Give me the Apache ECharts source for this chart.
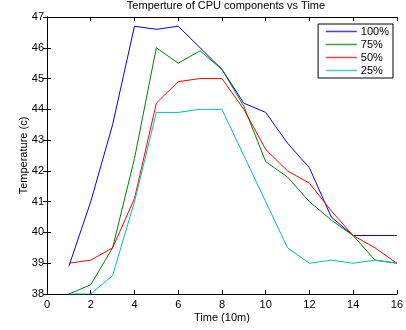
<!DOCTYPE html>
<html><head><meta charset="utf-8">
<script src="https://cdn.jsdelivr.net/npm/echarts@6/dist/echarts.min.js"></script>
<style>html,body{margin:0;padding:0;background:#fff}#c{width:406px;height:330px}</style>
</head><body><div id="c"></div>
<script>
const times = [1,2,3,4,5,6,7,8,9,10,11,12,13,14,15,16];
const s100 = [38.9,41.0,43.5,46.7,46.6,46.7,46.0,45.3,44.2,43.9,42.9,42.1,40.5,39.9,39.9,39.9];
const s75  = [38.0,38.3,39.5,42.4,46.0,45.5,45.9,45.3,44.1,42.3,41.8,41.0,40.4,39.9,39.1,39.0];
const s50  = [39.0,39.1,39.5,41.1,44.2,44.9,45.0,45.0,44.0,42.7,42.0,41.6,40.7,39.9,39.5,39.0];
const s25  = [38.0,38.0,38.6,41.0,43.9,43.9,44.0,44.0,42.5,41.0,39.5,39.0,39.1,39.0,39.1,39.0];
const names = ['100%','75%','50%','25%'];
const colors = ['#0000ff','#008000','#ff0000','#00bfbf'];
const xTicks = {min:0,max:16,interval:2};
const yTicks = {min:38,max:47,interval:1};

const font = 'Liberation Sans, Arial, sans-serif';
const chart = echarts.init(document.getElementById('c'));
const mk = (arr,i)=>({name:names[i],type:'line',data:times.map((t,k)=>[t,arr[k]]),
  showSymbol:false,symbol:'none',lineStyle:{width:1,color:colors[i]},itemStyle:{color:colors[i]},
  xAxisIndex:0,yAxisIndex:0,animation:false});
const axLine={show:true,lineStyle:{color:'#000',width:1}};
const tick={show:true,inside:true,length:4,lineStyle:{color:'#000'}};
chart.setOption({
  animation:false,
  backgroundColor:'#fff',
  title:{text:'Temperture of CPU components vs Time',left:226,textAlign:'center',top:0,padding:0,
    textStyle:{fontFamily:font,fontSize:11,fontWeight:'normal',color:'#000'}},
  legend:{data:names,orient:'vertical',right:13,top:24,padding:[2,4,2,7],itemGap:2,
    itemWidth:31,itemHeight:10,
    itemStyle:{opacity:0},lineStyle:{width:1.5,opacity:0.75},
    borderColor:'#000',borderWidth:1,backgroundColor:'#fff',
    textStyle:{fontFamily:font,fontSize:11,color:'#000',padding:[0,0,0,-1]}},
  grid:{left:47,right:7,top:17,bottom:36,containLabel:false},
  xAxis:[{type:'value',min:xTicks.min,max:xTicks.max,interval:xTicks.interval,position:'bottom',
    name:'Time (10m)',nameLocation:'middle',nameGap:18,nameMoveOverlap:false,
    nameTextStyle:{fontFamily:font,fontSize:11,color:'#000'},
    axisLine:axLine,axisTick:tick,splitLine:{show:false},
    axisLabel:{fontFamily:font,fontSize:11,color:'#000',margin:5}},
    {type:'value',min:xTicks.min,max:xTicks.max,interval:xTicks.interval,position:'top',
    axisLine:axLine,axisTick:tick,axisLabel:{show:false},splitLine:{show:false}}],
  yAxis:[{type:'value',min:yTicks.min,max:yTicks.max,interval:yTicks.interval,position:'left',
    name:'Temperature (c)',nameLocation:'middle',nameGap:18,nameMoveOverlap:false,
    nameTextStyle:{fontFamily:font,fontSize:11,color:'#000'},
    axisLine:axLine,axisTick:tick,splitLine:{show:false},
    axisLabel:{fontFamily:font,fontSize:11,color:'#000',margin:3}},
    {type:'value',min:yTicks.min,max:yTicks.max,interval:yTicks.interval,position:'right',
    axisLine:axLine,axisTick:tick,axisLabel:{show:false},splitLine:{show:false}}],
  series:[mk(s100,0),mk(s75,1),mk(s50,2),mk(s25,3)]
});
</script></body></html>
